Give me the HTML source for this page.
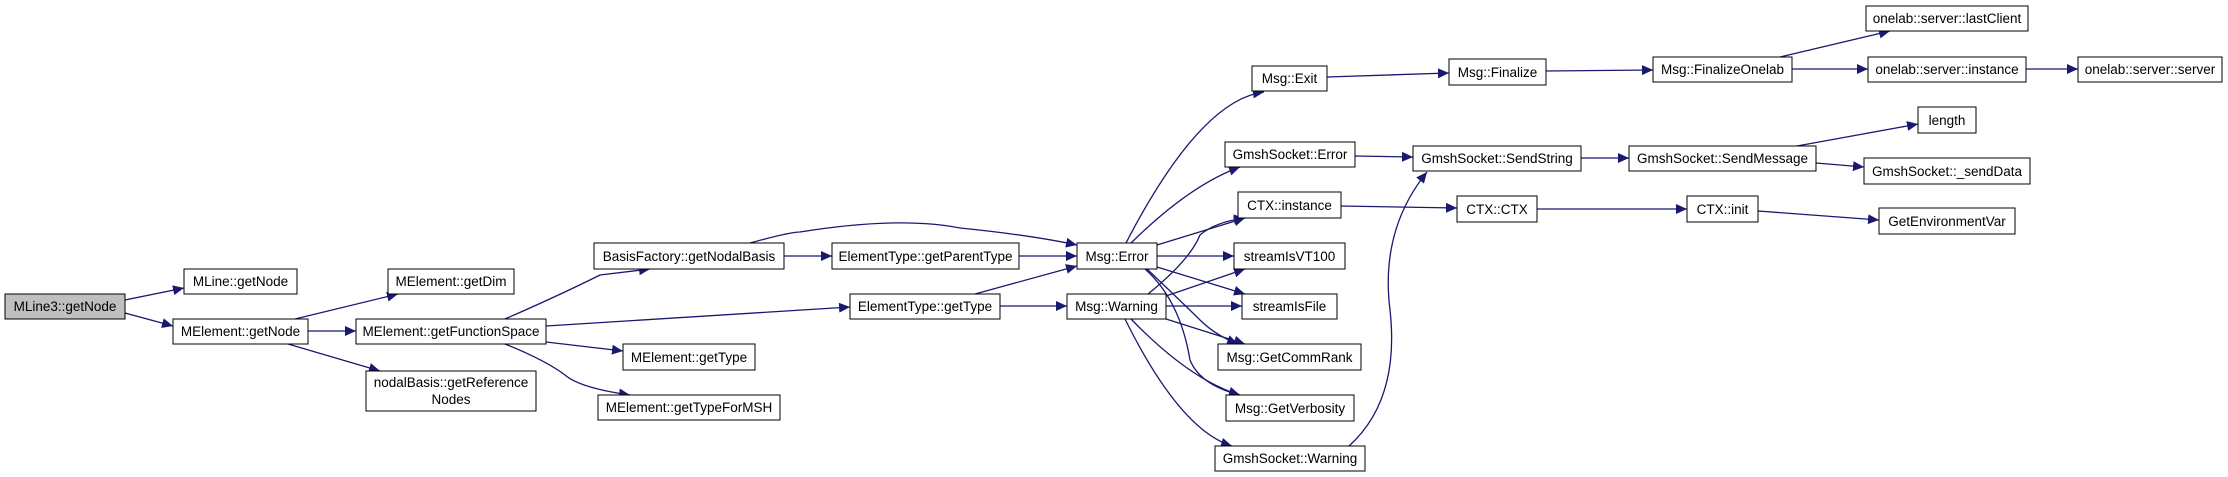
<!DOCTYPE html>
<html><head><meta charset="utf-8"><style>
html,body{margin:0;padding:0;background:#fff;}
svg{display:block;}
text{font-family:"Liberation Sans",sans-serif;font-size:13.5px;fill:#000;}
</style></head><body>
<svg width="2228" height="477" viewBox="0 0 2228 477" xmlns="http://www.w3.org/2000/svg">
<defs>
<marker id="a" markerUnits="userSpaceOnUse" markerWidth="12" markerHeight="10" refX="11" refY="5" orient="auto">
<path d="M0,0 L11,5 L0,10 Z" fill="#191970"/>
</marker>
</defs>
<g fill="none" stroke="#191970" stroke-width="1.3" marker-end="url(#a)">
<path d="M125,300 L184,288"/>
<path d="M125,313 L173,326"/>
<path d="M295,319 L398,294"/>
<path d="M308,331 L356,331"/>
<path d="M288,344 L380,371"/>
<path d="M505,319 Q560,295 600,275 L650,269"/>
<path d="M546,326 L850,307"/>
<path d="M546,342 L623,351"/>
<path d="M505,344 Q545,360 565,375 Q580,388 630,395"/>
<path d="M750,243 Q790,232 800,232 Q900,216 960,228 Q1030,235 1077,245"/>
<path d="M784,256 L832,256"/>
<path d="M1019,256 L1077,256"/>
<path d="M975,294 L1077,266"/>
<path d="M1000,306 L1067,306"/>
<path d="M1126,243 Q1200,100 1264,92"/>
<path d="M1131,243 Q1190,185 1240,167"/>
<path d="M1157,245 L1245,218"/>
<path d="M1157,256 L1234,256"/>
<path d="M1157,267 L1245,294"/>
<path d="M1147,269 Q1190,310 1200,320 Q1215,335 1238,344"/>
<path d="M1145,269 Q1180,300 1190,360 Q1200,385 1240,395"/>
<path d="M1148,294 Q1190,260 1200,235 Q1215,222 1245,218"/>
<path d="M1166,296 L1245,269"/>
<path d="M1166,306 L1242,306"/>
<path d="M1166,319 L1245,344"/>
<path d="M1131,319 Q1190,380 1240,395"/>
<path d="M1125,319 Q1180,430 1232,446"/>
<path d="M1349,446 Q1400,400 1390,310 Q1380,230 1427,172"/>
<path d="M1327,77 L1449,73"/>
<path d="M1355,156 L1413,157"/>
<path d="M1341,206 L1457,208"/>
<path d="M1546,71 L1653,70"/>
<path d="M1780,57 L1890,31"/>
<path d="M1792,69 L1868,69"/>
<path d="M2026,69 L2078,69"/>
<path d="M1581,158 L1629,158"/>
<path d="M1797,146 L1918,124"/>
<path d="M1816,163 L1864,167"/>
<path d="M1537,209 L1687,209"/>
<path d="M1758,211 L1879,220"/>
</g>
<g stroke="#000" stroke-width="1" fill="#fff">
<rect x="5" y="294" width="120" height="25" fill="#bfbfbf"/>
<rect x="184" y="269" width="113" height="25"/>
<rect x="173" y="319" width="135" height="25"/>
<rect x="388" y="269" width="126" height="25"/>
<rect x="356" y="319" width="190" height="25"/>
<rect x="366" y="371" width="170" height="40"/>
<rect x="594" y="243" width="190" height="26"/>
<rect x="623" y="344" width="132" height="26"/>
<rect x="598" y="395" width="182" height="25"/>
<rect x="832" y="243" width="187" height="26"/>
<rect x="850" y="294" width="150" height="25"/>
<rect x="1077" y="243" width="80" height="26"/>
<rect x="1067" y="294" width="99" height="25"/>
<rect x="1252" y="66" width="75" height="25"/>
<rect x="1225" y="142" width="130" height="25"/>
<rect x="1238" y="192" width="103" height="26"/>
<rect x="1234" y="243" width="111" height="26"/>
<rect x="1242" y="294" width="95" height="25"/>
<rect x="1218" y="344" width="143" height="26"/>
<rect x="1226" y="395" width="128" height="26"/>
<rect x="1215" y="446" width="150" height="25"/>
<rect x="1449" y="59" width="97" height="26"/>
<rect x="1413" y="146" width="168" height="25"/>
<rect x="1457" y="196" width="80" height="26"/>
<rect x="1653" y="57" width="139" height="25"/>
<rect x="1629" y="146" width="187" height="25"/>
<rect x="1687" y="196" width="71" height="26"/>
<rect x="1866" y="6" width="162" height="25"/>
<rect x="1868" y="57" width="158" height="25"/>
<rect x="2078" y="57" width="144" height="25"/>
<rect x="1918" y="107" width="58" height="26"/>
<rect x="1864" y="158" width="166" height="26"/>
<rect x="1879" y="208" width="136" height="26"/>
</g>
<g text-anchor="middle">
<text x="65" y="311">MLine3::getNode</text>
<text x="240.5" y="286">MLine::getNode</text>
<text x="240.5" y="336">MElement::getNode</text>
<text x="451" y="286">MElement::getDim</text>
<text x="451" y="336">MElement::getFunctionSpace</text>
<text x="451" y="387">nodalBasis::getReference</text>
<text x="451" y="404">Nodes</text>
<text x="689" y="261">BasisFactory::getNodalBasis</text>
<text x="689" y="362">MElement::getType</text>
<text x="689" y="412">MElement::getTypeForMSH</text>
<text x="925.5" y="261">ElementType::getParentType</text>
<text x="925" y="311">ElementType::getType</text>
<text x="1117" y="261">Msg::Error</text>
<text x="1116.5" y="311">Msg::Warning</text>
<text x="1289.5" y="83">Msg::Exit</text>
<text x="1290" y="159">GmshSocket::Error</text>
<text x="1289.5" y="210">CTX::instance</text>
<text x="1289.5" y="261">streamIsVT100</text>
<text x="1289.5" y="311">streamIsFile</text>
<text x="1289.5" y="362">Msg::GetCommRank</text>
<text x="1290" y="413">Msg::GetVerbosity</text>
<text x="1290" y="463">GmshSocket::Warning</text>
<text x="1497.5" y="77">Msg::Finalize</text>
<text x="1497" y="163">GmshSocket::SendString</text>
<text x="1497" y="214">CTX::CTX</text>
<text x="1722.5" y="74">Msg::FinalizeOnelab</text>
<text x="1722.5" y="163">GmshSocket::SendMessage</text>
<text x="1722.5" y="214">CTX::init</text>
<text x="1947" y="23">onelab::server::lastClient</text>
<text x="1947" y="74">onelab::server::instance</text>
<text x="2150" y="74">onelab::server::server</text>
<text x="1947" y="125">length</text>
<text x="1947" y="176">GmshSocket::_sendData</text>
<text x="1947" y="226">GetEnvironmentVar</text>
</g>
</svg>
</body></html>
